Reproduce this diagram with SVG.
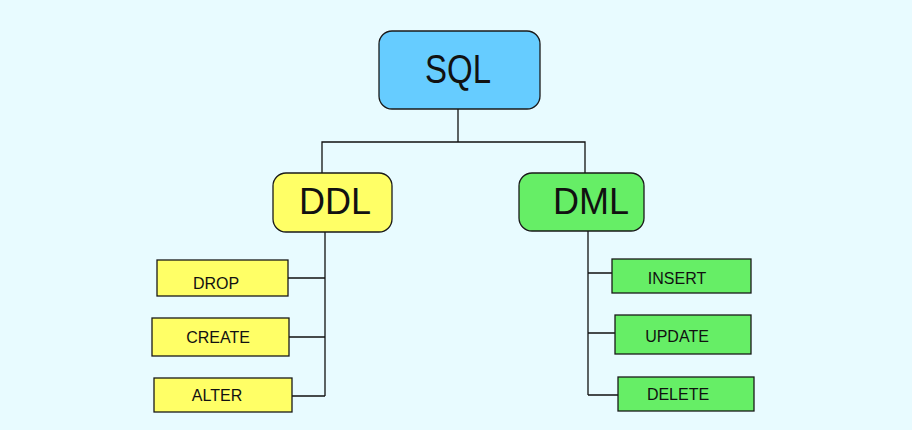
<svg xmlns="http://www.w3.org/2000/svg" width="912" height="430" viewBox="0 0 912 430">
<style>
.bg{fill:#e8fbff}
.box{stroke:#1a1a1a;stroke-width:1.3}
.big{fill:#111;font-family:"Liberation Sans",Arial,sans-serif;text-anchor:middle}
.sm{fill:#111;font-family:"Liberation Sans",Arial,sans-serif;font-size:16px;text-anchor:middle}
.blue{fill:#66ccff}
.yel{fill:#ffff66}
.grn{fill:#66ee66}
.con{stroke:#111;stroke-width:1.3;fill:none}
</style>
<rect class="bg" x="0" y="0" width="912" height="430"/>
<g id="connectors">
<path class="con" d="M458 109V142M322 173V142H585V173"/>
<path class="con" d="M325 232V396M288 278H325M289 337H325M292 396H325"/>
<path class="con" d="M588 231V395M588 273H612M588 333H615M588 395H618"/>
</g>
<g id="sql"><rect class="box blue" x="379" y="31" width="161" height="78" rx="13"/><text class="big" x="458" y="83" font-size="41" fill="#0a1a33" textLength="66" lengthAdjust="spacingAndGlyphs">SQL</text></g>
<g id="ddl"><rect class="box yel" x="273" y="173" width="119" height="59" rx="13"/><text class="big" x="335" y="214" font-size="36">DDL</text></g>
<g id="dml"><rect class="box grn" x="519" y="173" width="125" height="58" rx="13"/><text class="big" x="591" y="214" font-size="36">DML</text></g>
<g id="drop"><rect class="box yel" x="157" y="260" width="131" height="36"/><text class="sm" x="216" y="289">DROP</text></g>
<g id="create"><rect class="box yel" x="152" y="318" width="137" height="38"/><text class="sm" x="218" y="343">CREATE</text></g>
<g id="alter"><rect class="box yel" x="154" y="378" width="138" height="34"/><text class="sm" x="217" y="401">ALTER</text></g>
<g id="insert"><rect class="box grn" x="612" y="259" width="139" height="34"/><text class="sm" x="677" y="284">INSERT</text></g>
<g id="update"><rect class="box grn" x="615" y="315" width="136" height="39"/><text class="sm" x="677" y="342">UPDATE</text></g>
<g id="delete"><rect class="box grn" x="618" y="377" width="136" height="34"/><text class="sm" x="678" y="400">DELETE</text></g>
</svg>
